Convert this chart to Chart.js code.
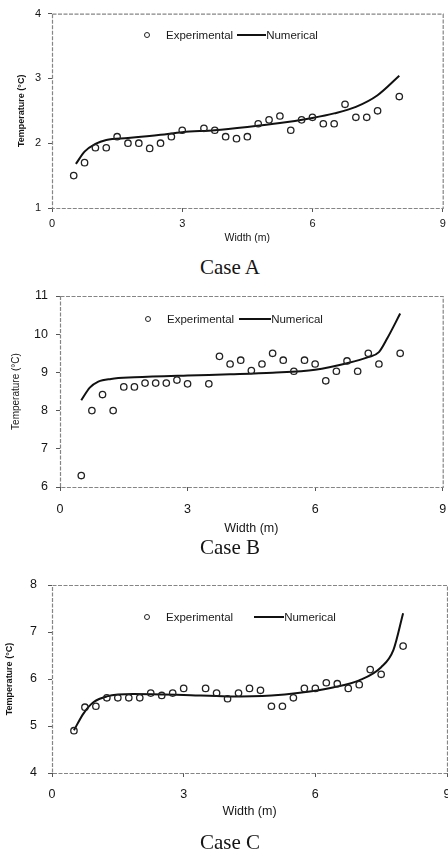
<!DOCTYPE html>
<html>
<head>
<meta charset="utf-8">
<script src="https://cdn.jsdelivr.net/npm/chart.js@4.4.1/dist/chart.umd.min.js"></script>
<style>
  body { margin: 0; width: 448px; height: 851px; overflow: hidden; background: #fff; position: relative; }
  .panel { position: absolute; left: 0; }
  .caption { position: absolute; left: 0; width: 460px; text-align: center; font-family: "Liberation Serif", "Times New Roman", serif; font-size: 21px; color: #151515; line-height: 24px; }
  .legend { position: absolute; height: 14px; display: flex; align-items: center; white-space: nowrap; font-family: "Liberation Sans", Arial, sans-serif; font-size: 11.5px; color: #1a1a1a; }
  .legend .dot { width: 4px; height: 4px; border: 1.4px solid #222; border-radius: 50%; }
  .legend .dash { height: 2px; background: #111; }
</style>
</head>
<body>

<div class="panel" id="panelA" style="top:0px;width:448px;height:250px"><canvas id="chartA"></canvas></div>
<div class="caption" style="top:255px">Case A</div>

<div class="panel" id="panelB" style="top:280px;width:448px;height:260px"><canvas id="chartB"></canvas></div>
<div class="caption" style="top:535px">Case B</div>

<div class="panel" id="panelC" style="top:560px;width:460px;height:263px"><canvas id="chartC"></canvas></div>
<div class="caption" style="top:830px">Case C</div>

<script>
// measurement positions across the width (m), same for all three cases
const expWidth = [0.5, 0.75, 1.0, 1.25, 1.5, 1.75, 2.0, 2.25, 2.5, 2.75, 3.0,
    3.5, 3.75, 4.0, 4.25, 4.5, 4.75, 5.0, 5.25, 5.5, 5.75, 6.0, 6.25, 6.5, 6.75, 7.0, 7.25, 7.5, 8.0];

// Case A
const expTempA = [1.5, 1.7, 1.93, 1.93, 2.1, 2.0, 2.0, 1.92, 2.0, 2.1, 2.2,
    2.23, 2.2, 2.1, 2.07, 2.1, 2.3, 2.36, 2.42, 2.2, 2.36, 2.4, 2.3, 2.3, 2.6, 2.4, 2.4, 2.5, 2.72];
const numWidthA = [0.55, 0.75, 1.0, 1.25, 1.75, 2.5, 3.0, 3.75, 4.5, 5.25, 6.0, 6.5, 7.0, 7.5, 8.0];
const numTempA = [1.68, 1.87, 1.99, 2.05, 2.08, 2.13, 2.17, 2.2, 2.25, 2.31, 2.39, 2.46, 2.56, 2.74, 3.04];

// Case B
const expTempB = [6.3, 8.0, 8.42, 8.0, 8.62, 8.62, 8.72, 8.72, 8.72, 8.8, 8.7,
    8.7, 9.42, 9.22, 9.32, 9.05, 9.22, 9.5, 9.32, 9.03, 9.32, 9.22, 8.78, 9.03, 9.3, 9.03, 9.5, 9.22, 9.5];
const numWidthB = [0.5, 0.7, 0.9, 1.2, 1.75, 3.0, 4.0, 5.0, 6.0, 6.75, 7.25, 7.5, 7.7, 8.0];
const numTempB = [8.27, 8.6, 8.76, 8.83, 8.87, 8.92, 8.95, 8.99, 9.07, 9.24, 9.4, 9.53, 9.9, 10.54];

// Case C
const expTempC = [4.9, 5.4, 5.42, 5.6, 5.6, 5.6, 5.6, 5.7, 5.65, 5.7, 5.8,
    5.8, 5.7, 5.58, 5.7, 5.8, 5.76, 5.42, 5.42, 5.6, 5.8, 5.8, 5.92, 5.9, 5.8, 5.88, 6.2, 6.1, 6.7];
const numWidthC = [0.5, 0.72, 0.95, 1.25, 1.85, 3.0, 4.0, 5.0, 5.6, 6.4, 7.0, 7.5, 7.78, 8.0];
const numTempC = [4.91, 5.27, 5.51, 5.63, 5.68, 5.66, 5.63, 5.65, 5.7, 5.82, 5.97, 6.25, 6.62, 7.4];

// tick values
const xTicks = [0, 3, 6, 9];
const yTicksA = [1, 2, 3, 4];
const yTicksB = [6, 7, 8, 9, 10, 11];
const yTicksC = [4, 5, 6, 7, 8];

const sans = '"Liberation Sans", Arial, sans-serif';

//draws the dotted grey box round the plot area
const framePlugin = {
    id: 'frame',
    beforeDatasetsDraw(chart) {
        const ctx = chart.ctx;
        const a = chart.chartArea;
        ctx.save();
        ctx.strokeStyle = '#858585';
        ctx.lineWidth = 1.2;
        ctx.setLineDash([4, 1.5]);
        ctx.strokeRect(a.left + 0.5, a.top + 0.5, a.right - a.left, a.bottom - a.top);
        ctx.restore();
    }
};

function toPoints(xs, ys) {
    return xs.map((x, i) => ({x: x, y: ys[i]}));
}

function makeChart(id, expTemp, numWidth, numTemp, yTicks, p) {
    return new Chart(document.getElementById(id), {
        type: 'scatter',
        data: {
            datasets: [{
                label: 'Experimental',
                data: toPoints(expWidth, expTemp),
                pointStyle: 'circle',
                pointRadius: 3.2,
                pointBorderWidth: 1.3,
                borderColor: '#222',
                backgroundColor: 'rgba(255,255,255,0)',
                showLine: false
            }, {
                label: 'Numerical',
                data: toPoints(numWidth, numTemp),
                showLine: true,
                borderColor: '#111',
                borderWidth: 2,
                pointRadius: 0,
                cubicInterpolationMode: 'monotone'
            }]
        },
        options: {
            responsive: true,
            maintainAspectRatio: false,
            animation: false,
            layout: {padding: p.pad},
            plugins: {legend: {display: false}, tooltip: {enabled: false}},
            scales: {
                x: {
                    type: 'linear',
                    min: xTicks[0],
                    max: xTicks[xTicks.length - 1],
                    afterBuildTicks: (scale) => { scale.ticks = xTicks.map(v => ({value: v})); },
                    ticks: {color: '#151515', font: {family: sans, size: p.tickFont}, padding: p.xTickPad, maxRotation: 0, autoSkip: false},
                    grid: {drawOnChartArea: false, tickLength: 4, color: '#555'},
                    border: {display: false},
                    title: {display: true, text: 'Width (m)', color: '#151515', font: {family: sans, size: p.xTitleFont}, padding: {top: 0, bottom: p.xTitlePad}},
                    afterFit: (scale) => {
                        scale.height = p.xHeight;
                        // let the end labels hang over the frame like the original
                        scale.paddingLeft = 0;
                        scale.paddingRight = 0;
                    }
                },
                y: {
                    type: 'linear',
                    min: yTicks[0],
                    max: yTicks[yTicks.length - 1],
                    afterBuildTicks: (scale) => { scale.ticks = yTicks.map(v => ({value: v})); },
                    ticks: {color: '#151515', font: {family: sans, size: p.tickFont}, padding: p.yTickPad},
                    grid: {drawOnChartArea: false, tickLength: 4, color: '#555'},
                    border: {display: false},
                    title: {display: true, text: 'Temperature (°C)', color: '#151515', font: {family: sans, size: p.yTitleFont, weight: p.yTitleWeight}, padding: {top: p.yTitlePad, bottom: 0}},
                    afterFit: (scale) => { scale.width = p.yWidth; }
                }
            }
        },
        plugins: [framePlugin]
    });
}

//legend sits inside the plot, built from the dataset labels
function addLegend(panelId, chart, left, top, textGap, lineGap, lineLen) {
    const box = document.createElement('div');
    box.className = 'legend';
    box.style.left = left + 'px';
    box.style.top = top + 'px';
    const sets = chart.data.datasets;
    box.innerHTML = '<span class="dot"></span>'
        + '<span style="margin-left:' + textGap + 'px">' + sets[0].label + '</span>'
        + '<span class="dash" style="margin-left:' + lineGap + 'px;width:' + lineLen + 'px"></span>'
        + '<span>' + sets[1].label + '</span>';
    document.getElementById(panelId).appendChild(box);
}

const chartA = makeChart('chartA', expTempA, numWidthA, numTempA, yTicksA, {
    pad: {top: 10, right: 5, bottom: 2, left: 0},
    yWidth: 52, xHeight: 40, tickFont: 11, xTitleFont: 10.5, xTitlePad: 3.7,
    xTickPad: 5, yTickPad: 7, yTitleFont: 9, yTitleWeight: 'bold', yTitlePad: 16
});
const chartB = makeChart('chartB', expTempB, numWidthB, numTempB, yTicksB, {
    pad: {top: 16, right: 5, bottom: 2, left: 0},
    yWidth: 60, xHeight: 51, tickFont: 12.5, xTitleFont: 12.5, xTitlePad: 1.5,
    xTickPad: 11, yTickPad: 8, yTitleFont: 10, yTitleWeight: 'normal', yTitlePad: 10
});
const chartC = makeChart('chartC', expTempC, numWidthC, numTempC, yTicksC, {
    pad: {top: 25, right: 13, bottom: 2, left: 0},
    yWidth: 52, xHeight: 48, tickFont: 12.5, xTitleFont: 12.5, xTitlePad: 1.5,
    xTickPad: 10, yTickPad: 11, yTitleFont: 9, yTitleWeight: 'bold', yTitlePad: 4.6
});

addLegend('panelA', chartA, 144, 28, 16, 4, 29);
addLegend('panelB', chartB, 145, 32, 16, 5, 32);
addLegend('panelC', chartC, 144, 50, 16, 21, 30);
</script>
</body>
</html>
